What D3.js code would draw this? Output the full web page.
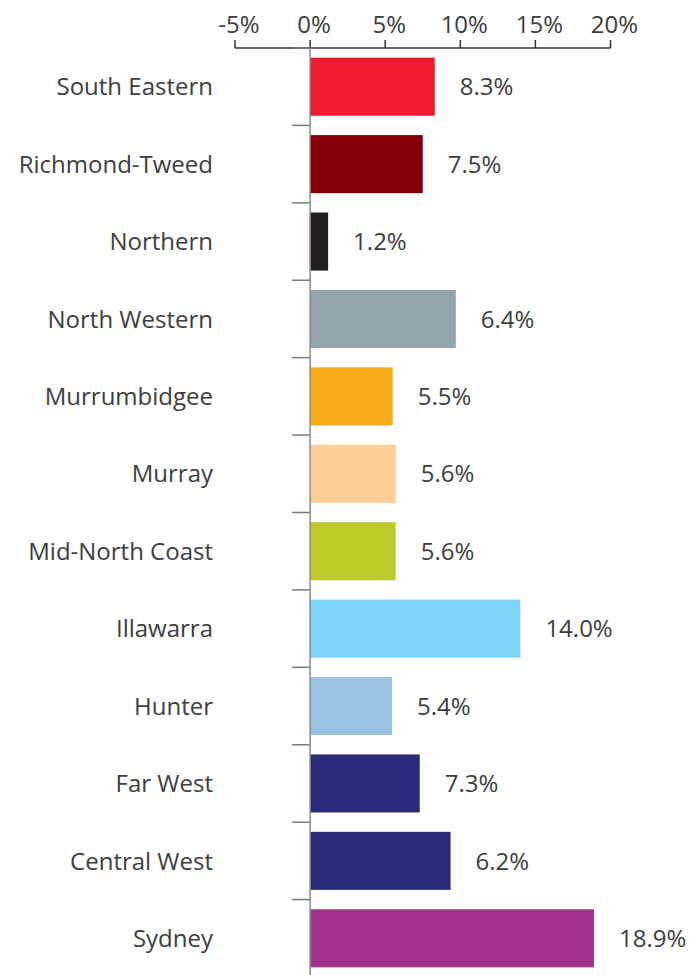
<!DOCTYPE html>
<html>
<head>
<meta charset="utf-8">
<script src="https://cdn.jsdelivr.net/npm/d3@7"></script>
<style>
  html, body { margin: 0; padding: 0; background: #fff; }
  svg { display: block; }
  text { font-family: "Open Sans", "Noto Sans", sans-serif; fill: #3d3d3d; }
</style>
</head>
<body>
<svg id="chart" width="690" height="975"></svg>
<script>
// Data
const categories = ["South Eastern", "Richmond-Tweed", "Northern", "North Western", "Murrumbidgee",
  "Murray", "Mid-North Coast", "Illawarra", "Hunter", "Far West", "Central West", "Sydney"];
// bar lengths (as drawn, in %)
const values = [8.3, 7.5, 1.2, 9.7, 5.5, 5.7, 5.7, 14.0, 5.45, 7.3, 9.35, 18.9];
// value labels as printed
const valueLabels = ["8.3%", "7.5%", "1.2%", "6.4%", "5.5%", "5.6%", "5.6%", "14.0%", "5.4%", "7.3%", "6.2%", "18.9%"];
const colors = ["#ED1C2E", "#830008", "#231F20", "#95A4AC", "#F9AD1C", "#FCCE96",
  "#BDCC2A", "#7DD3F5", "#9AC3E3", "#2C2A7A", "#2C2A7A", "#A3318E"];
const tickValues = [-5, 0, 5, 10, 15, 20];
const tickLabels = ["-5%", "0%", "5%", "10%", "15%", "20%"];

const svg = d3.select("#chart");
const axisY = 48;
const fs = 24;

const x = d3.scaleLinear().domain([-5, 20]).range([235, 610.5]);
const y = d3.scaleBand().domain(categories).range([axisY, 977])
  .paddingInner(0.25).paddingOuter(0.125);
const step = y.step();

// Top axis
const topAxis = svg.append("g");
topAxis.append("line")
  .attr("x1", x(-5)).attr("x2", x(20))
  .attr("y1", axisY).attr("y2", axisY)
  .attr("stroke", "#333").attr("stroke-width", 1.5);
topAxis.selectAll("line.tick").data(tickValues).join("line")
  .attr("class", "tick")
  .attr("x1", d => x(d)).attr("x2", d => x(d))
  .attr("y1", axisY - 8).attr("y2", axisY)
  .attr("stroke", "#333").attr("stroke-width", 1.5);
topAxis.selectAll("text").data(tickValues).join("text")
  .attr("x", d => x(d) + 4)
  .attr("y", axisY - 15)
  .attr("text-anchor", "middle")
  .attr("font-size", fs)
  .text((d, i) => tickLabels[i]);

// Bars
const rows = categories.map((c, i) => ({ c, v: values[i], label: valueLabels[i], color: colors[i] }));

svg.append("g").selectAll("rect").data(rows).join("rect")
  .attr("x", d => x(Math.min(0, d.v)))
  .attr("y", d => y(d.c))
  .attr("width", d => Math.abs(x(d.v) - x(0)))
  .attr("height", y.bandwidth())
  .attr("fill", d => d.color);

// Value labels
svg.append("g").selectAll("text").data(rows).join("text")
  .attr("x", d => x(d.v) + 25)
  .attr("y", d => y(d.c) + y.bandwidth() / 2)
  .attr("dy", "0.36em")
  .attr("font-size", fs)
  .text(d => d.label);

// Category labels
svg.append("g").selectAll("text").data(rows).join("text")
  .attr("x", 213)
  .attr("y", d => y(d.c) + y.bandwidth() / 2)
  .attr("dy", "0.36em")
  .attr("text-anchor", "end")
  .attr("font-size", fs)
  .text(d => d.c);

// Vertical zero axis with category boundary ticks
const yAxis = svg.append("g");
yAxis.selectAll("line.btick").data(categories).join("line")
  .attr("class", "btick")
  .attr("x1", x(0) - 18).attr("x2", x(0))
  .attr("y1", d => y(d) - step * y.paddingOuter())
  .attr("y2", d => y(d) - step * y.paddingOuter())
  .attr("stroke", "#7a7a7a").attr("stroke-width", 1.5);
yAxis.append("line")
  .attr("x1", x(0)).attr("x2", x(0))
  .attr("y1", axisY).attr("y2", 975)
  .attr("stroke", "#8a8a8a").attr("stroke-width", 1.5);
</script>
</body>
</html>
